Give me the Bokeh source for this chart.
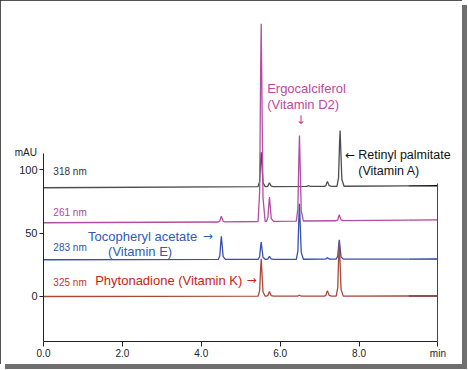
import numpy as np
from bokeh.plotting import figure
from bokeh.models import Range1d, LinearAxis, FixedTicker, Label
from bokeh.embed import file_html
from bokeh.resources import INLINE

# ---------------- data ----------------
x_ticks = [0, 2, 4, 6, 8, 10]
x_tick_labels = ["0.0", "2.0", "4.0", "6.0", "8.0", "min"]
y_ticks = [0, 50, 100]
y_tick_labels = ["0", "50", "100"]
wavelengths = ["318 nm", "261 nm", "283 nm", "325 nm"]

# 318 nm trace (black)
black_base_t = [0.0, 10.0]
black_base_v = [85.8, 87.4]
black_rt = [5.52, 5.73, 6.72, 7.20, 7.52]
black_apex = [113.9, 89.7, 87.4, 90.8, 131.0]

# 261 nm trace (pink)
pink_base_t = [0.0, 3.5, 6.0, 10.0]
pink_base_v = [58.2, 58.4, 59.4, 60.5]
pink_rt = [4.51, 5.52, 5.73, 6.49, 7.50]
pink_apex = [63.4, 215.2, 78.4, 127.1, 64.5]

# 283 nm trace (blue)
blue_base_t = [0.0, 10.0]
blue_base_v = [29.0, 29.6]
blue_rt = [4.51, 5.52, 5.73, 6.49, 7.20, 7.50]
blue_apex = [47.4, 42.9, 31.6, 73.2, 30.6, 44.8]

# 325 nm trace (red)
red_base_t = [0.0, 10.0]
red_base_v = [0.0, 0.4]
red_rt = [5.52, 5.73, 6.49, 7.20, 7.50]
red_apex = [29.7, 3.9, 1.0, 4.5, 43.0]

# time where recorded signal ends (plain baseline drawn afterwards)
signal_end = 9.25

# axis extents
t_min, t_max = 0.0, 10.0
y_axis_bounds = (-35.5, 112.9)
right_edge_bounds = (-35.5, 89.5)

# ---------------- styling ----------------
FONT = "Liberation Sans"
ARROW_FONT = "DejaVu Sans"
peak_offsets = [-0.08, -0.04, -0.015, 0.0, 0.015, 0.045, 0.10]
peak_fracs = [0.0, 0.15, 0.75, 1.0, 0.70, 0.12, 0.0]


def build(base_t, base_v, rts, apex):
    t = {t_min, signal_end, t_max}
    for rt in rts:
        for o in peak_offsets:
            t.add(round(rt + o, 4))
    t = np.array(sorted(t))
    v = np.interp(t, base_t, base_v)
    for rt, a in zip(rts, apex):
        h = a - np.interp(rt, base_t, base_v)
        v = v + h * np.interp(t, rt + np.array(peak_offsets), peak_fracs, left=0, right=0)
    return t, v


p = figure(width=462, height=364, x_range=Range1d(-0.8367, 10.522), y_range=Range1d(-35.52, 225.7),
           output_backend="svg", toolbar_location=None,
           x_axis_type=None, y_axis_type=None,
           min_border_left=10, min_border_right=4, min_border_top=10, min_border_bottom=23)
p.outline_line_color = None
p.background_fill_color = "white"
p.border_fill_color = "white"
p.styles = {"outline": "1px solid #1a1a1a", "outline-offset": "-1px",
            "box-shadow": "5px 5px 0 #6e6e6e"}

axis_color = "#222222"
xaxis = LinearAxis(ticker=FixedTicker(ticks=x_ticks), bounds=(t_min, t_max),
                   major_label_overrides={float(k): s for k, s in zip(x_ticks, x_tick_labels)},
                   major_tick_out=5, major_tick_in=0, minor_tick_line_color=None,
                   axis_line_color=axis_color, major_tick_line_color=axis_color,
                   major_label_text_font=FONT, major_label_text_font_size="10px",
                   major_label_text_color="#222222", major_label_standoff=1)
p.add_layout(xaxis, "below")

yaxis = LinearAxis(ticker=FixedTicker(ticks=y_ticks), bounds=y_axis_bounds, fixed_location=t_min,
                   major_label_overrides={float(k): s for k, s in zip(y_ticks, y_tick_labels)},
                   major_tick_out=4, major_tick_in=0, minor_tick_line_color=None,
                   axis_line_color=axis_color, major_tick_line_color=axis_color,
                   major_label_text_font=FONT, major_label_text_font_size="11px",
                   major_label_text_color="#222222", major_label_standoff=2)
p.add_layout(yaxis, "left")

raxis = LinearAxis(ticker=FixedTicker(ticks=[]), bounds=right_edge_bounds, fixed_location=t_max,
                   major_tick_line_color=None, minor_tick_line_color=None,
                   major_label_text_font_size="0px", axis_line_color="#444444")
p.add_layout(raxis, "right")

traces = [
    (black_base_t, black_base_v, black_rt, black_apex, "#4d4d4d", "#111111"),
    (pink_base_t, pink_base_v, pink_rt, pink_apex, "#b24ea2", "#a8449a"),
    (blue_base_t, blue_base_v, blue_rt, blue_apex, "#3550ad", "#1f3f9e"),
    (red_base_t, red_base_v, red_rt, red_apex, "#a8473a", "#6a1212"),
]
for bt, bv, rts, ap, c_main, c_tail in traces:
    t, v = build(bt, bv, rts, ap)
    m = t <= signal_end + 1e-9
    k = t >= signal_end - 1e-9
    p.line(t[m], v[m], line_color=c_main, line_width=1.3)
    p.line(t[k], v[k], line_color=c_tail, line_width=1.3)


def lab(x, y, text, color, size="13px", align="left", font=FONT):
    p.add_layout(Label(x=x, y=y, text=text, text_color=color, text_font=font,
                       text_font_size=size, text_align=align, text_baseline="middle"))


lab(-0.45, 113.9, "mAU", "#222222", "10px", "center")
lab(0.25, 98.7, wavelengths[0], "#333333", "10px")
lab(0.25, 66.3, wavelengths[1], "#a54a9e", "10px")
lab(0.25, 38.9, wavelengths[2], "#2d55a5", "10px")
lab(0.25, 11.3, wavelengths[3], "#c8341e", "10px")

blue_c, red_c, pink_c, black_c = "#2d5bb5", "#c81e14", "#c0489c", "#111111"
lab(1.13, 47.6, "Tocopheryl acetate", blue_c)
lab(4.04, 48.0, "\u2192", blue_c, "12px", font=ARROW_FONT)
lab(2.45, 35.5, "(Vitamin E)", blue_c, align="center")
lab(1.31, 12.6, "Phytonadione (Vitamin K)", red_c)
lab(5.15, 13.0, "\u2192", red_c, "12px", font=ARROW_FONT)
lab(5.67, 163.8, "Ergocalciferol", pink_c)
lab(5.67, 151.9, "(Vitamin D2)", pink_c)
lab(6.52, 139.5, "\u2193", pink_c, "12px", align="center", font=ARROW_FONT)
lab(7.65, 111.7, "\u2190", black_c, "12px", font=ARROW_FONT)
lab(7.98, 111.3, "Retinyl palmitate", black_c, "12.5px")
lab(7.98, 98.7, "(Vitamin A)", black_c, "12.5px")

open("out.html", "w").write(file_html(p, INLINE))
